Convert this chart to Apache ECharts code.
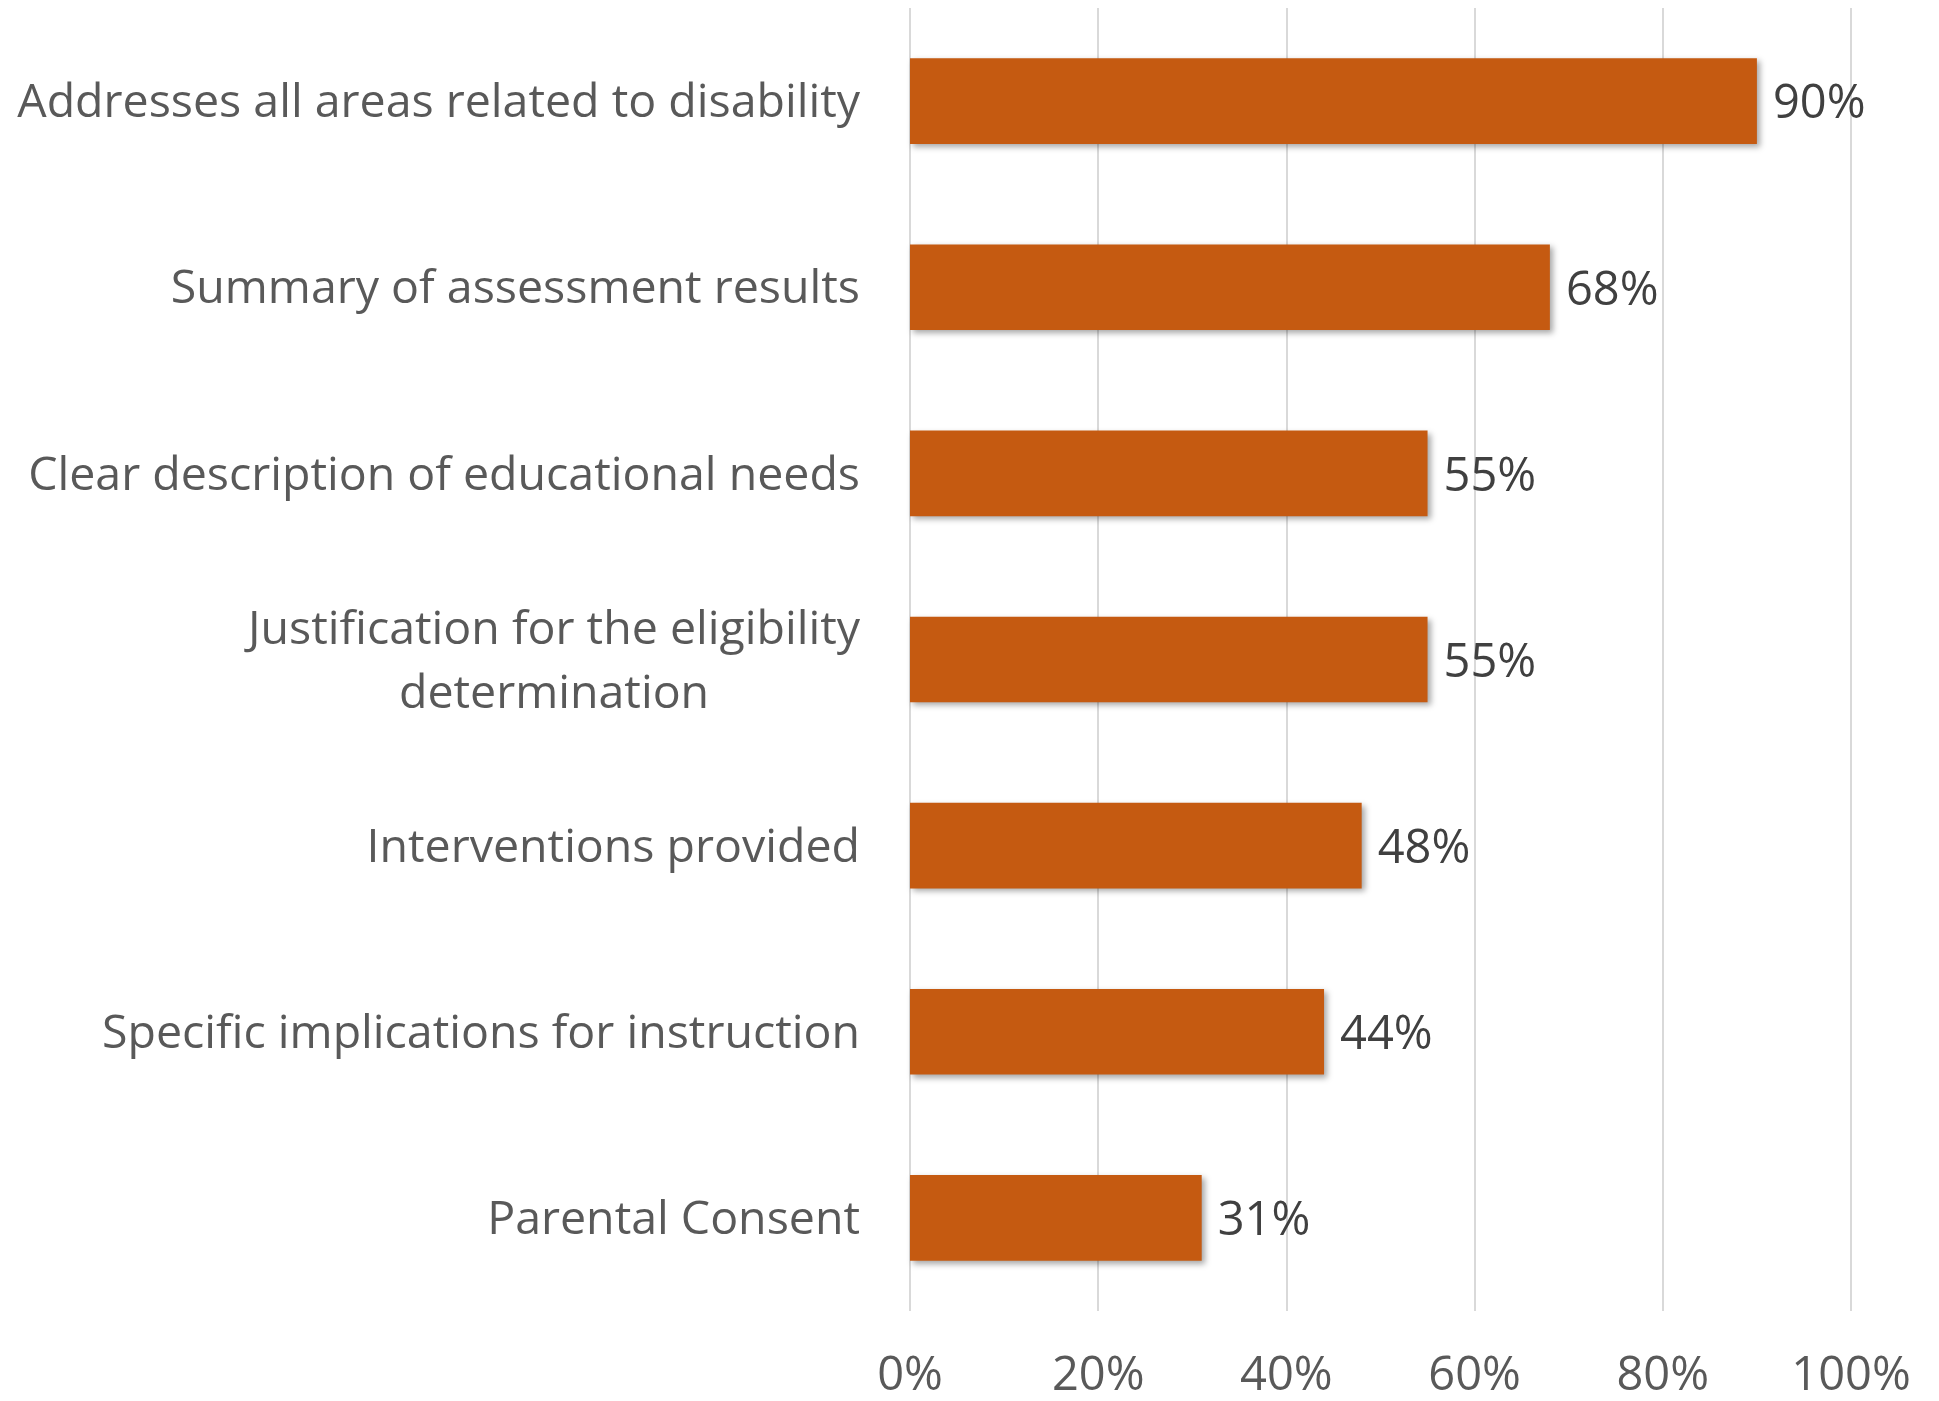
<!DOCTYPE html>
<html>
<head>
<meta charset="utf-8">
<script src="https://cdn.jsdelivr.net/npm/echarts@6/dist/echarts.min.js"></script>
<style>
  html, body { margin: 0; padding: 0; background: #fff; }
  #chart { width: 1939px; height: 1401px; }
</style>
</head>
<body>
<div id="chart"></div>
<script>
const categories = [
  'Addresses all areas related to disability',
  'Summary of assessment results',
  'Clear description of educational needs',
  'Justification for the eligibility\ndetermination',
  'Interventions provided',
  'Specific implications for instruction',
  'Parental Consent'
]
const values = [90, 68, 55, 55, 48, 44, 31]
const tickLabels = ['0%', '20%', '40%', '60%', '80%', '100%']

const chart = echarts.init(document.getElementById('chart'))
const options = {
  backgroundColor: '#ffffff',
  animation: false,
  grid: {
    left: 910,
    right: 88,
    top: 8,
    bottom: 90,
    containLabel: false
  },
  xAxis: {
    type: 'value',
    min: 0,
    max: 100,
    interval: 20,
    axisLine: { show: false },
    axisTick: { show: false },
    splitLine: {
      lineStyle: { color: '#d9d9d9', width: 2 }
    },
    axisLabel: {
      color: '#595959',
      fontFamily: 'Open Sans',
      fontSize: 47,
      margin: 42,
      formatter: function (v) {
        return tickLabels[v / 20]
      }
    }
  },
  yAxis: {
    type: 'category',
    inverse: true,
    data: categories,
    axisLine: { show: false },
    axisTick: { show: false },
    axisLabel: {
      margin: 50,
      padding: [6, 0, 0, 0],
      color: '#595959',
      fontFamily: 'Open Sans',
      fontSize: 46.5,
      lineHeight: 64,
      formatter: function (v) {
        // wrapped labels are centred line by line, like the original
        return v.split('\n').map(function (s) { return '{c|' + s + '}' }).join('\n')
      },
      rich: {
        c: {
          align: 'center',
          color: '#595959',
          fontFamily: 'Open Sans',
          fontSize: 46.5,
          lineHeight: 64
        }
      }
    }
  },
  series: [
    {
      type: 'bar',
      data: values,
      barWidth: '46%',
      itemStyle: {
        color: '#c55a11',
        shadowColor: 'rgba(0, 0, 0, 0.35)',
        shadowBlur: 6,
        shadowOffsetX: 3,
        shadowOffsetY: 3
      },
      label: {
        show: true,
        position: 'right',
        distance: 16,
        offset: [0, 4],
        color: '#404040',
        fontFamily: 'Open Sans',
        fontSize: 47,
        formatter: '{c}%'
      }
    }
  ]
}
chart.setOption(options)
</script>
</body>
</html>
